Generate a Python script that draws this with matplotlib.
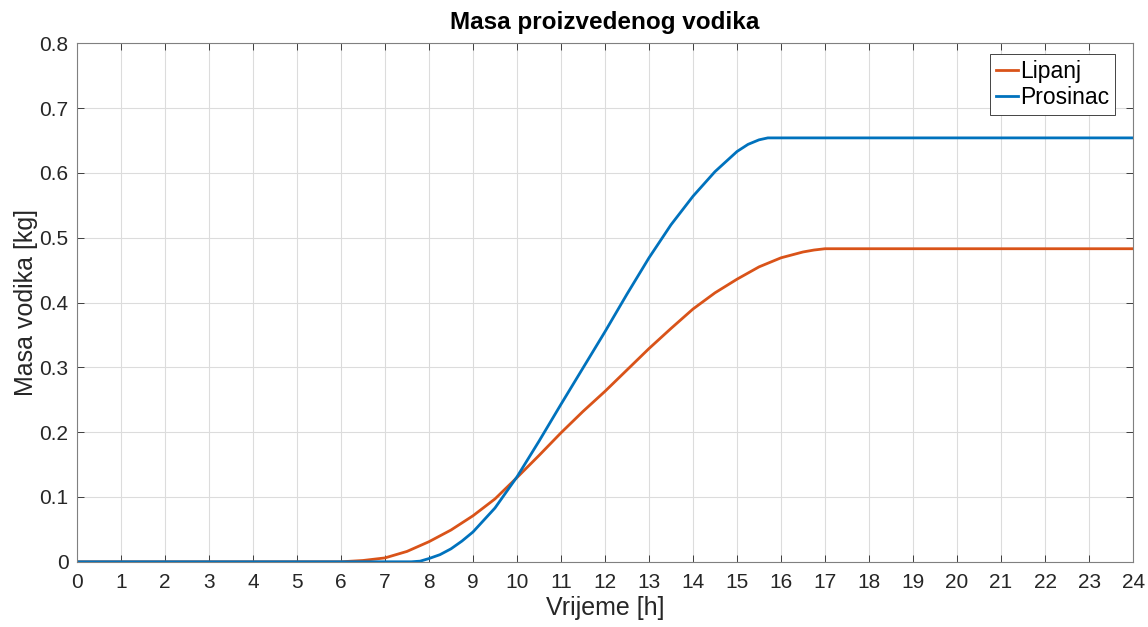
import matplotlib
matplotlib.use('Agg')
import matplotlib.pyplot as plt
import numpy as np

matplotlib.rcParams.update({
    'font.family': ['Liberation Sans', 'DejaVu Sans'],
    'axes.edgecolor': '#262626',
    'xtick.color': '#262626',
    'ytick.color': '#262626',
})

ORANGE = '#D95319'
BLUE = '#0072BD'

# Lipanj (June)
h_lipanj = [0, 6.0, 6.5, 6.75, 7.0, 7.5, 8.0, 8.5, 9.0, 9.5, 10.0, 10.5, 11.0,
            11.5, 12.0, 12.5, 13.0, 13.5, 14.0, 14.5, 15.0, 15.5, 16.0, 16.5,
            16.75, 17.0, 17.5, 24]
m_lipanj = [0, 0, 0.002, 0.004, 0.006, 0.016, 0.031, 0.049, 0.071, 0.097,
            0.130, 0.164, 0.199, 0.232, 0.263, 0.296, 0.329, 0.360, 0.390,
            0.415, 0.436, 0.455, 0.469, 0.478, 0.481, 0.483, 0.483, 0.483]

# Prosinac (December)
h_prosinac = [0, 7.6, 7.8, 8.0, 8.25, 8.5, 8.75, 9.0, 9.5, 10.0, 10.5, 11.0,
              11.5, 12.0, 12.5, 13.0, 13.5, 14.0, 14.5, 15.0, 15.25, 15.5,
              15.7, 24]
m_prosinac = [0, 0, 0.001, 0.005, 0.011, 0.020, 0.032, 0.046, 0.083, 0.131,
              0.186, 0.243, 0.299, 0.355, 0.413, 0.469, 0.520, 0.564, 0.602,
              0.633, 0.644, 0.651, 0.654, 0.654]

fig = plt.figure(figsize=(11.48, 6.27), dpi=100)
ax = fig.add_axes([0.067, 0.104, 0.92, 0.827])

ax.plot(h_lipanj, m_lipanj, color=ORANGE, lw=2, label='Lipanj')
ax.plot(h_prosinac, m_prosinac, color=BLUE, lw=2, label='Prosinac')

ax.set_xlim(0, 24)
ax.set_ylim(0, 0.8)
ax.set_xticks(np.arange(0, 25, 1))
ax.set_yticks(np.arange(0, 0.81, 0.1))
ax.set_yticklabels(['0', '0.1', '0.2', '0.3', '0.4', '0.5', '0.6', '0.7', '0.8'])
ax.tick_params(direction='in', top=True, right=True, labelsize=15, length=5,
               width=0.6)
ax.tick_params(axis='x', pad=8)
ax.tick_params(axis='y', pad=6)
ax.grid(True, color='#dcdcdc', lw=0.8)
ax.set_axisbelow(True)
for s in ax.spines.values():
    s.set_linewidth(0.8)
    s.set_color('#808080')

ax.set_xlabel('Vrijeme [h]', fontsize=18, color='#262626', labelpad=3)
ax.set_ylabel('Masa vodika [kg]', fontsize=18, color='#262626', labelpad=1)
ax.set_title('Masa proizvedenog vodika', fontsize=17.5, fontweight='bold',
             pad=10)

leg = ax.legend(loc='upper right', fontsize=16.5, fancybox=False,
                edgecolor='#262626', handlelength=0.95, handletextpad=0.1,
                borderpad=0.25, labelspacing=0.15, borderaxespad=0,
                bbox_to_anchor=(0.983, 0.979), framealpha=1)
leg.get_frame().set_linewidth(0.6)

plt.savefig('out.png', dpi=100)
